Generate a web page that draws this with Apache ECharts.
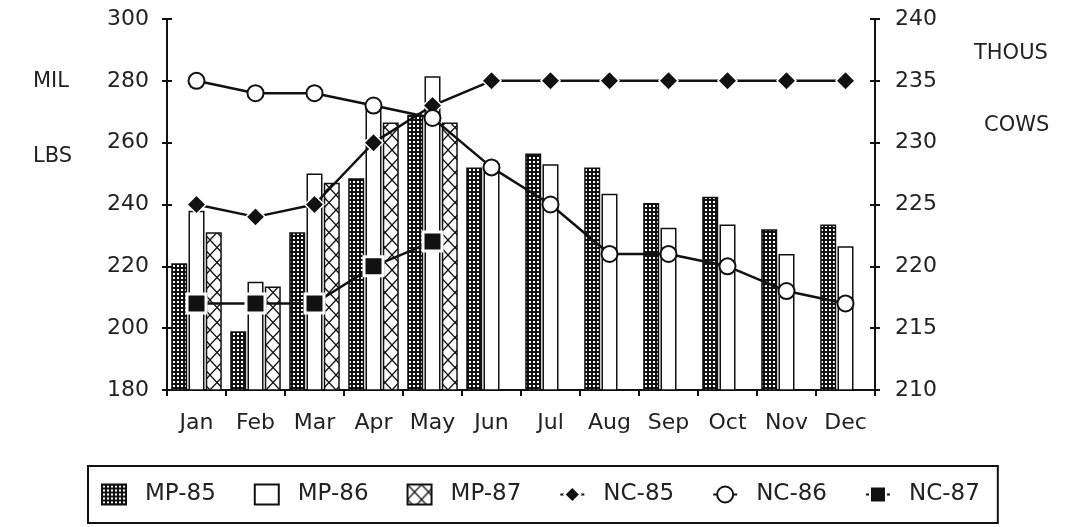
<!DOCTYPE html>
<html>
<head>
<meta charset="utf-8">
<script src="https://cdn.jsdelivr.net/npm/echarts@6/dist/echarts.min.js"></script>
<style>
html,body{margin:0;padding:0;background:#fff;}
#chart{width:1065px;height:527px;}
</style>
</head>
<body>
<div id="chart"></div>
<script>
const months = ['Jan','Feb','Mar','Apr','May','Jun','Jul','Aug','Sep','Oct','Nov','Dec'];
const leftTicks = [180, 200, 220, 240, 260, 280, 300];
const rightTicks = [210, 215, 220, 225, 230, 235, 240];
const mp85 = [221, 199, 231, 248.5, 269, 252, 256.5, 252, 240.5, 242.5, 232, 233.5];
const mp86 = [238, 215, 250, 271, 281.5, 250.5, 253, 243.5, 232.5, 233.5, 224, 226.5];
const mp87 = [231, 213.5, 247, 266.5, 266.5, null, null, null, null, null, null, null];
const nc85 = [225, 224, 225, 230, 233, 235, 235, 235, 235, 235, 235, 235];
const nc86 = [235, 234, 234, 233, 232, 228, 225, 221, 221, 220, 218, 217];
const nc87 = [217, 217, 217, 220, 222, null, null, null, null, null, null, null];

function makeDots() {
  const c = document.createElement('canvas');
  c.width = 4; c.height = 4;
  const g = c.getContext('2d');
  g.fillStyle = '#111'; g.fillRect(0, 0, 4, 4);
  g.fillStyle = '#fff'; g.fillRect(1, 1, 2, 2);
  return c;
}
function makeCross() {
  const c = document.createElement('canvas');
  c.width = 14; c.height = 15;
  const g = c.getContext('2d');
  g.fillStyle = '#fff'; g.fillRect(0, 0, 14, 15);
  g.strokeStyle = '#111'; g.lineWidth = 1.3;
  g.beginPath();
  g.moveTo(0, 0); g.lineTo(14, 15);
  g.moveTo(14, 0); g.lineTo(0, 15);
  g.stroke();
  return c;
}
const dotPat = {image: makeDots(), repeat: 'repeat'};
const crossPat = {image: makeCross(), repeat: 'repeat'};

const FONT = 'DejaVu Sans';
const chart = echarts.init(document.getElementById('chart'), null, {renderer: 'canvas'});
const lbl = {color: '#222', fontFamily: FONT, fontSize: 22};
const axisLine = {show: true, lineStyle: {color: '#111', width: 2}};

const option = {
  backgroundColor: '#fff',
  animation: false,
  grid: {left: 167, right: 190, top: 19, bottom: 137},
  legend: {
    left: 88, top: 466,
    padding: [17, 18, 17, 13],
    borderColor: '#111', borderWidth: 2,
    itemGap: 38, itemWidth: 24, itemHeight: 20,
    textStyle: {color: '#222', fontFamily: FONT, fontSize: 23, padding: [0, 0, 0, 14]},
    data: [
      {name: 'MP-85', icon: 'rect'},
      {name: 'MP-86', icon: 'rect'},
      {name: 'MP-87', icon: 'rect'},
      {name: 'NC-85'}, {name: 'NC-86'}, {name: 'NC-87'}
    ]
  },
  graphic: [
    {type: 'text', left: 33, top: 71, style: {text: 'MIL', fill: '#222', font: '21px "DejaVu Sans"'}},
    {type: 'text', left: 33, top: 146, style: {text: 'LBS', fill: '#222', font: '21px "DejaVu Sans"'}},
    {type: 'text', left: 974, top: 43, style: {text: 'THOUS', fill: '#222', font: '21px "DejaVu Sans"'}},
    {type: 'text', left: 984, top: 115, style: {text: 'COWS', fill: '#222', font: '21px "DejaVu Sans"'}}
  ],
  xAxis: {
    type: 'category', data: months,
    axisLine: axisLine,
    axisTick: {show: true, interval: 0, length: 6, lineStyle: {color: '#111', width: 2}},
    axisLabel: Object.assign({margin: 22, interval: 0}, lbl),
    splitLine: {show: false}
  },
  yAxis: [
    {type: 'value', position: 'left', min: leftTicks[0], max: leftTicks[leftTicks.length-1], interval: 20,
     axisLine: axisLine, axisTick: {show: true, length: 5, lineStyle: {color: '#111', width: 2}},
     axisLabel: Object.assign({margin: 18}, lbl), splitLine: {show: false}},
    {type: 'value', position: 'right', min: rightTicks[0], max: rightTicks[rightTicks.length-1], interval: 5,
     axisLine: axisLine, axisTick: {show: true, length: 5, lineStyle: {color: '#111', width: 2}},
     axisLabel: Object.assign({margin: 20}, lbl), splitLine: {show: false}},
    {type: 'value', position: 'left', min: 180, max: 300, interval: 20,
     axisLine: {show: false}, axisTick: {show: true, inside: true, length: 5, lineStyle: {color: '#111', width: 2}},
     axisLabel: {show: false}, splitLine: {show: false}},
    {type: 'value', position: 'right', min: 210, max: 240, interval: 5,
     axisLine: {show: false}, axisTick: {show: true, inside: true, length: 5, lineStyle: {color: '#111', width: 2}},
     axisLabel: {show: false}, splitLine: {show: false}}
  ],
  series: [
    {name: 'MP-85', type: 'bar', yAxisIndex: 0, data: mp85, barWidth: 16, barGap: '8%',
     itemStyle: {color: dotPat, borderColor: '#111', borderWidth: 1.5}},
    {name: 'MP-86', type: 'bar', yAxisIndex: 0, data: mp86, barWidth: 16, barGap: '8%',
     itemStyle: {color: '#fff', borderColor: '#111', borderWidth: 1.5}},
    {name: 'MP-87', type: 'bar', yAxisIndex: 0, data: mp87, barWidth: 16, barGap: '8%',
     itemStyle: {color: crossPat, borderColor: '#111', borderWidth: 1.5}},
    {name: 'NC-85', type: 'line', yAxisIndex: 1, data: nc85, z: 5,
     symbol: 'diamond', symbolSize: 19, showAllSymbol: true,
     lineStyle: {color: '#111', width: 2.5},
     itemStyle: {color: '#111', borderColor: '#fff', borderWidth: 1.5}},
    {name: 'NC-86', type: 'line', yAxisIndex: 1, data: nc86, z: 5,
     symbol: 'circle', symbolSize: 16, showAllSymbol: true,
     lineStyle: {color: '#111', width: 2.5},
     itemStyle: {color: '#fff', borderColor: '#111', borderWidth: 2}},
    {name: 'NC-87', type: 'line', yAxisIndex: 1, data: nc87, z: 5,
     symbol: 'rect', symbolSize: 19, showAllSymbol: true,
     lineStyle: {color: '#111', width: 2.5},
     itemStyle: {color: '#111', borderColor: '#fff', borderWidth: 3}}
  ]
};
chart.setOption(option);
</script>
</body>
</html>
